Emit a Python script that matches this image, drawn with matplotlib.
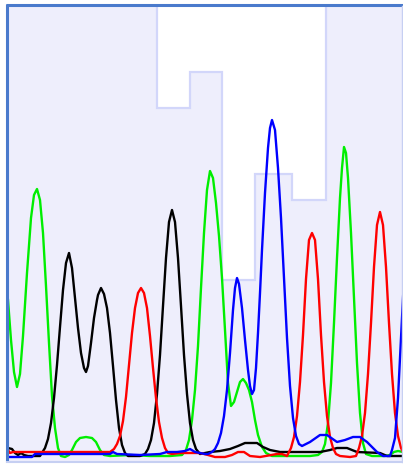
import matplotlib
matplotlib.use("Agg")
import matplotlib.pyplot as plt
from matplotlib.patches import Rectangle

# ---- data (x = scan position, y = signal) ----
green_x = [8, 11, 14, 17, 20, 23, 27, 31, 34, 37, 40, 43, 46, 49, 52, 55, 58, 61, 65, 69, 72, 76, 80, 86, 92, 96, 100, 104, 110, 130, 150, 170, 182, 186, 189, 192, 195, 198, 201, 204, 207, 210, 213, 216, 219, 222, 225, 228, 231, 234, 237, 240, 243, 246, 249, 252, 255, 258, 262, 266, 272, 290, 310, 318, 322, 325, 328, 331, 334, 337, 340, 342, 344, 346, 348, 351, 354, 357, 360, 363, 366, 372, 385, 390, 394, 398, 403]
green_y = [158, 118, 86, 71, 84, 122, 185, 240, 263, 269, 258, 225, 172, 115, 62, 30, 10, 2, 1, 3, 8, 16, 20, 21, 20, 16, 8, 3, 2, 3, 2, 2, 3, 8, 18, 38, 68, 112, 170, 225, 268, 287, 280, 255, 222, 180, 128, 75, 52, 56, 66, 76, 79, 75, 68, 56, 38, 23, 11, 5, 2, 2, 2, 3, 6, 14, 35, 75, 135, 200, 260, 290, 311, 305, 280, 225, 160, 95, 45, 15, 4, 2, 2, 3, 6, 7, 6]

black_x = [8, 12, 15, 18, 21, 24, 28, 34, 40, 45, 48, 51, 54, 57, 60, 63, 66, 69, 72, 75, 78, 81, 84, 86, 88, 91, 94, 97, 98, 101, 104, 107, 110, 113, 116, 119, 122, 125, 128, 140, 145, 148, 151, 154, 157, 160, 163, 166, 169, 172, 175, 178, 181, 184, 187, 190, 193, 196, 200, 210, 220, 230, 238, 245, 257, 263, 270, 280, 320, 330, 337, 347, 357, 380, 387, 403]
black_y = [10, 9, 5, 3, 5, 3, 2, 2, 2, 10, 19, 35, 60, 93, 131, 168, 195, 205, 190, 160, 130, 105, 90, 86, 92, 115, 140, 158, 163, 170, 164, 150, 125, 92, 58, 30, 13, 5, 2, 2, 4, 9, 18, 35, 64, 103, 152, 200, 236, 248, 236, 200, 152, 103, 64, 35, 18, 9, 4, 6, 7, 9, 12, 15, 15, 11, 8, 6, 6, 8, 10, 10, 6, 5, 2, 2]

red_x = [8, 10, 13, 16, 60, 110, 114, 117, 120, 123, 126, 129, 132, 135, 138, 141, 144, 147, 150, 153, 156, 159, 162, 165, 168, 172, 180, 200, 208, 215, 225, 232, 238, 244, 250, 260, 277, 282, 287, 291, 294, 297, 300, 303, 306, 309, 312, 315, 318, 321, 324, 327, 330, 333, 336, 340, 350, 356, 359, 362, 365, 368, 371, 374, 377, 380, 383, 386, 389, 392, 395, 398, 401, 404]
red_y = [8, 5, 6, 6, 6, 6, 9, 14, 22, 37, 61, 93, 125, 150, 165, 170, 165, 150, 122, 90, 60, 36, 20, 10, 5, 4, 5, 5, 3, 1, 1, 3, 6, 6, 2, 1, 4, 4, 2, 10, 21, 42, 76, 123, 179, 218, 225, 218, 179, 123, 76, 42, 21, 10, 4, 2, 1, 2, 10, 22, 45, 84, 135, 191, 233, 246, 233, 191, 135, 84, 45, 22, 10, 4]

blue_x = [8, 20, 32, 35, 60, 100, 110, 113, 117, 140, 160, 167, 177, 185, 190, 195, 200, 205, 208, 212, 215, 218, 221, 224, 227, 230, 233, 235, 237, 239, 242, 245, 248, 250, 252, 254, 256, 258, 260, 262, 265, 268, 270, 272, 275, 278, 281, 284, 287, 290, 293, 296, 299, 302, 310, 320, 327, 337, 345, 353, 360, 367, 377, 383, 390, 392, 395, 398, 401, 404]
blue_y = [1, 1, 1, 4, 4, 4, 4, 6, 4, 3, 4, 6, 6, 7, 9, 6, 5, 4, 4, 6, 9, 15, 25, 42, 68, 105, 148, 170, 180, 174, 150, 118, 88, 72, 64, 68, 90, 125, 165, 208, 265, 310, 330, 338, 328, 290, 240, 180, 120, 72, 40, 22, 14, 12, 16, 23, 23, 16, 18, 21, 21, 16, 6, 2, 2, 8, 20, 60, 120, 180]

call_positions = [37, 69, 101, 140, 173, 207, 237, 273, 311, 341, 380, 410]
call_quality = [500, 500, 500, 500, 350, 386, 178, 284, 258, 500, 500, 500]

# ---- figure ----
fig = plt.figure(figsize=(4.03, 4.65), dpi=100)
ax = fig.add_axes([0, 0, 1, 1])
ax.set_xlim(0, 403)
ax.set_ylim(-7, 458)
ax.axis("off")

lavender = "#eeeefc"
outline = "#d2d6fa"

x0, x1 = 7, 401.5
y0, y1 = -3.5, 452
clip = Rectangle((x0, y0), x1 - x0, y1 - y0, transform=ax.transData,
                 facecolor="white", edgecolor="none", zorder=0)
ax.add_patch(clip)

edges = [call_positions[0] - 40]
for a, b in zip(call_positions[:-1], call_positions[1:]):
    edges.append((a + b) / 2)
edges.append(call_positions[-1] + 40)

fill = ax.stairs(call_quality, edges, baseline=-20, fill=True,
                 facecolor=lavender, edgecolor="none", zorder=1)
fill.set_clip_path(clip)
ol = ax.stairs(call_quality, edges, baseline=None, color=outline,
               linewidth=1.6, zorder=2)
ol.set_clip_path(clip)

traces = [
    (green_x, green_y, "#00ee00"),
    (black_x, black_y, "#000000"),
    (red_x, red_y, "#ff0000"),
    (blue_x, blue_y, "#0000ff"),
]
for xs, ys, c in traces:
    ln, = ax.plot(xs, ys, color=c, linewidth=1.7, zorder=3,
                  solid_joinstyle="round", antialiased=True)
    ln.set_clip_path(clip)

# border: strong blue top/left, light right/bottom
ax.plot([x0 - 0.5, x0 - 0.5], [y0, y1 + 1.5], color="#4a7acc", linewidth=2.2, zorder=5, solid_capstyle="butt")
ax.plot([x0 - 1.5, x1 + 1], [y1 + 1, y1 + 1], color="#4a7acc", linewidth=2.2, zorder=5, solid_capstyle="butt")
ax.plot([x1, x1], [y0, y1], color="#c6cff2", linewidth=1.0, zorder=5)
ax.plot([x0, x1], [y0, y0], color="#c6cff2", linewidth=1.5, zorder=5)

fig.savefig("out.png", dpi=100, facecolor="white")
